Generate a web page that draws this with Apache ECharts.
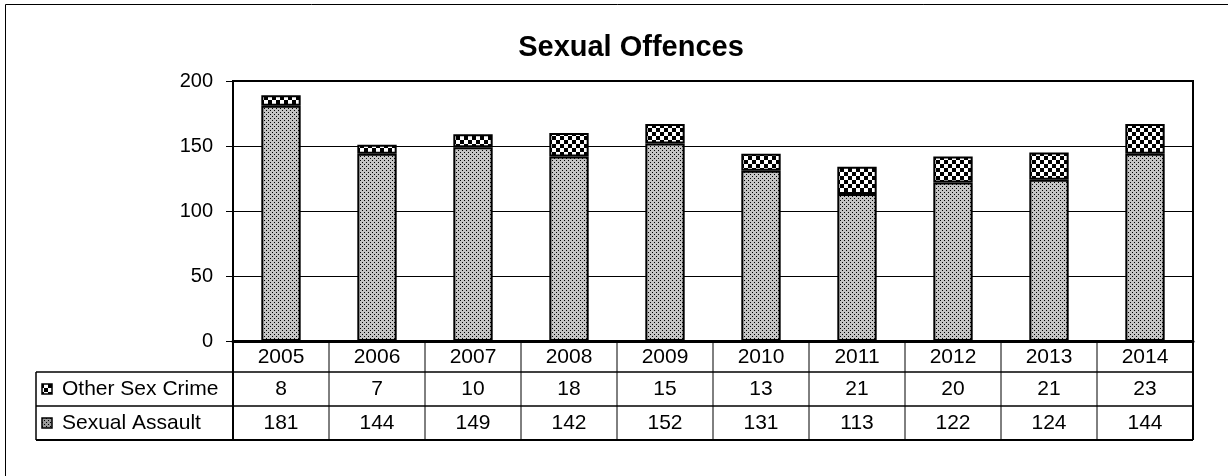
<!DOCTYPE html>
<html>
<head>
<meta charset="utf-8">
<script src="https://cdn.jsdelivr.net/npm/echarts@6/dist/echarts.min.js"></script>
<style>
html,body{margin:0;padding:0;background:#fff;}
#main{width:1228px;height:476px;}
</style>
</head>
<body>
<div id="main"></div>
<script>
var years = ['2005','2006','2007','2008','2009','2010','2011','2012','2013','2014'];
var otherSexCrime = [8,7,10,18,15,13,21,20,21,23];
var sexualAssault = [181,144,149,142,152,131,113,122,124,144];
var yTicks = [0,50,100,150,200];
var seriesNames = ['Other Sex Crime','Sexual Assault'];

function checkerPattern(){
  var c = document.createElement('canvas'); c.width = 8; c.height = 8;
  var g = c.getContext('2d');
  g.fillStyle = '#fff'; g.fillRect(0,0,8,8);
  g.fillStyle = '#000'; g.fillRect(0,0,4,4); g.fillRect(4,4,4,4);
  return c;
}
function dotPattern(bg){
  var c = document.createElement('canvas'); c.width = 4; c.height = 4;
  var g = c.getContext('2d');
  g.fillStyle = bg; g.fillRect(0,0,4,4);
  g.fillStyle = '#000'; g.fillRect(0,0,1,1); g.fillRect(2,2,1,1);
  return c;
}
var FONT = '"Liberation Sans", Arial, sans-serif';
var gridLeft = 233, gridRightEdge = 1193, gridTop = 81, gridBottomY = 341;
var W = 1228, H = 476;

var chart = echarts.init(document.getElementById('main'), null, {renderer:'canvas'});
var option = {
  backgroundColor: '#fff',
  animation: false,
  title: {
    text: 'Sexual Offences', left: 626, top: 28, textAlign: 'center',
    textStyle: {fontFamily: FONT, fontWeight: 'bold', fontSize: 29, color: '#000'}
  },
  grid: {left: gridLeft, right: W - gridRightEdge, top: gridTop, bottom: H - gridBottomY,
         show: true, borderColor: '#000', borderWidth: 2, backgroundColor: 'transparent'},
  xAxis: {
    type: 'category', data: years,
    axisLine: {lineStyle: {color: '#000', width: 3}},
    axisTick: {show: false}, axisLabel: {show: false}
  },
  yAxis: {
    type: 'value', min: yTicks[0], max: yTicks[yTicks.length-1], interval: 50,
    axisLine: {show: true, lineStyle: {color: '#000', width: 2}},
    axisTick: {show: true, length: 7, lineStyle: {color: '#000', width: 1}},
    axisLabel: {fontFamily: FONT, fontSize: 20, color: '#000', margin: 20},
    splitLine: {lineStyle: {color: '#000', width: 1}}
  },
  series: [
    {name: seriesNames[1], type: 'bar', stack: 'total', data: sexualAssault, barWidth: '41%',
     itemStyle: {color: {image: dotPattern('#c4c4c4'), repeat: 'repeat'}, borderColor: '#000', borderWidth: 2}},
    {name: seriesNames[0], type: 'bar', stack: 'total', data: otherSexCrime, barWidth: '41%',
     itemStyle: {color: {image: checkerPattern(), repeat: 'repeat'}, borderColor: '#000', borderWidth: 2}}
  ]
};
chart.setOption(option);

// data table below the plot
var rowY = [gridBottomY, 372, 406, 440];
var tableLeft = 36;
var els = [];
// outer frame
els.push({type:'rect', shape:{x:5.5, y:4.5, width:1400, height:700}, style:{fill:'none', stroke:'#000', lineWidth:1}, silent:true});
var c0 = chart.convertToPixel({xAxisIndex:0}, years[0]);
var c1 = chart.convertToPixel({xAxisIndex:0}, years[1]);
var cw = c1 - c0;
for (var i = 0; i <= years.length; i++) {
  var x = c0 - cw/2 + cw*i;
  var lw = (i === 0 || i === years.length) ? 2 : 1;
  els.push({type:'line', shape:{x1:x, y1:rowY[0], x2:x, y2:rowY[3]}, style:{stroke:'#000', lineWidth:lw}, silent:true});
}
els.push({type:'line', shape:{x1:tableLeft, y1:rowY[1], x2:tableLeft, y2:rowY[3]}, style:{stroke:'#000', lineWidth:1.5}, silent:true});
for (var r = 1; r <= 3; r++) {
  els.push({type:'line', shape:{x1:tableLeft, y1:rowY[r], x2:gridRightEdge, y2:rowY[r]}, style:{stroke:'#000', lineWidth:(r===3?2:1.5)}, silent:true});
}
var rows = [years, otherSexCrime, sexualAssault];
for (var r = 0; r < 3; r++) {
  var cy = (rowY[r] + rowY[r+1]) / 2 + (r===0 ? 1 : 0);
  for (var i = 0; i < years.length; i++) {
    var cx = chart.convertToPixel({xAxisIndex:0}, years[i]);
    els.push({type:'text', x: cx, y: cy, style:{text: String(rows[r][i]), fontFamily: FONT, fontSize: 21, fill:'#000', align:'center', verticalAlign:'middle'}, silent:true});
  }
}
// row headers with legend keys
var keyFills = [{image: checkerPattern(), repeat:'repeat'}, {image: dotPattern('#9a9a9a'), repeat:'repeat'}];
for (var r = 1; r <= 2; r++) {
  var cy = (rowY[r] + rowY[r+1]) / 2;
  els.push({type:'rect', shape:{x:42, y:cy-5, width:10, height:10}, style:{fill: keyFills[r-1], stroke:'#000', lineWidth:1.5}, silent:true});
  els.push({type:'text', x: 62, y: cy, style:{text: seriesNames[r-1], fontFamily: FONT, fontSize: 21, fill:'#000', align:'left', verticalAlign:'middle'}, silent:true});
}
chart.setOption({graphic: {elements: els}});
</script>
</body>
</html>
